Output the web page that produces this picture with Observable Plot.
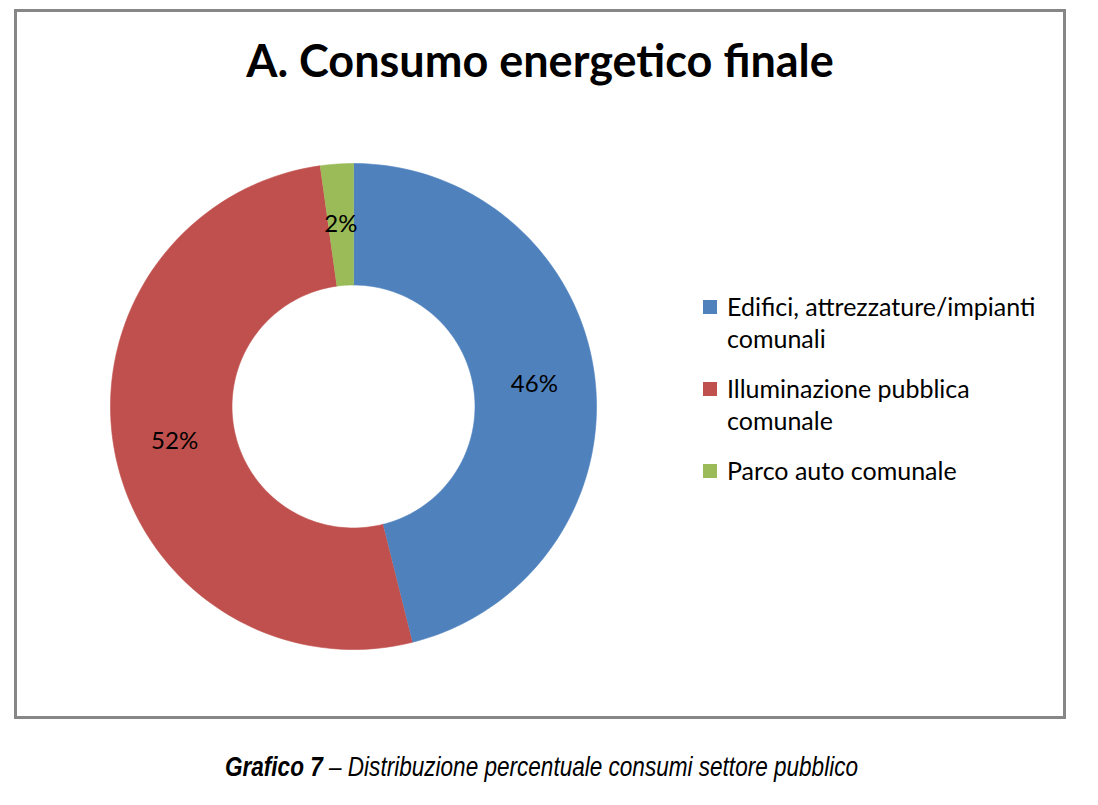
<!DOCTYPE html>
<html><head><meta charset="utf-8">
<script src="https://cdn.jsdelivr.net/npm/d3@7"></script>
<script src="https://cdn.jsdelivr.net/npm/@observablehq/plot@0.6"></script>
<style>
body{margin:0;background:#fff;width:1098px;height:805px;position:relative;overflow:hidden;font-family:Lato,"Open Sans",sans-serif;color:#000;}
#frame{position:absolute;left:14px;top:9px;width:1052px;height:710px;box-sizing:border-box;border:3px solid #878787;}
#title{position:absolute;left:14px;width:1052px;top:38px;text-align:center;font-weight:700;font-size:45px;line-height:45px;}
#chart{position:absolute;left:100px;top:153px;}
#legend{position:absolute;left:703px;top:290px;width:360px;}
.item{position:relative;padding-left:24px;font-size:25px;line-height:32px;margin-bottom:18px;width:330px;}
.sw{position:absolute;left:0;top:10px;width:14px;height:14px;}
#caption{position:absolute;left:0;width:1083px;top:753px;text-align:center;font-family:"Liberation Sans","Arial",sans-serif;font-style:italic;font-size:27.5px;line-height:27.5px;transform:scaleX(0.82);transform-origin:541.5px 0;white-space:nowrap;}
</style></head>
<body>
<div id="frame"></div>
<div id="title"></div>
<div id="chart"></div>
<div id="legend"></div>
<div id="caption"><b>Grafico 7</b> – Distribuzione percentuale consumi settore pubblico</div>
<script>
const titleText = "A. Consumo energetico finale";
const categories = ["Edifici, attrezzature/impianti comunali", "Illuminazione pubblica comunale", "Parco auto comunale"];
const values = [46.1, 51.7, 2.2];
const labels = ["46%", "52%", "2%"];
const colors = ["#4F81BD", "#C0504D", "#9BBB59"];
const innerRatio = 0.5;

document.getElementById("title").textContent = titleText;

const arcs = d3.pie().sort(null).value(d => d)(values);
const pts = [];
arcs.forEach((a, i) => {
  const n = 120;
  for (let k = 0; k <= n; k++) {
    const t = a.startAngle + (a.endAngle - a.startAngle) * k / n;
    pts.push({cat: categories[i], x: Math.sin(t), y: Math.cos(t)});
  }
  for (let k = n; k >= 0; k--) {
    const t = a.startAngle + (a.endAngle - a.startAngle) * k / n;
    pts.push({cat: categories[i], x: innerRatio * Math.sin(t), y: innerRatio * Math.cos(t)});
  }
});
const labelData = arcs.map((a, i) => {
  const m = (a.startAngle + a.endAngle) / 2, r = (1 + innerRatio) / 2;
  return {label: labels[i], x: r * Math.sin(m), y: r * Math.cos(m)};
});

const plot = Plot.plot({
  width: 506, height: 506, margin: 10,
  x: {domain: [-1, 1], axis: null},
  y: {domain: [-1, 1], axis: null},
  color: {domain: categories, range: colors},
  marks: [
    Plot.line(pts, {x: "x", y: "y", z: "cat", fill: "cat", stroke: "cat", strokeWidth: 0.6}),
    Plot.text(labelData, {x: "x", y: "y", text: "label", fill: "#000", fontSize: 24, fontFamily: "Lato, sans-serif"})
  ]
});
document.getElementById("chart").appendChild(plot);

const leg = document.getElementById("legend");
categories.forEach((c, i) => {
  const it = document.createElement("div");
  it.className = "item";
  const sw = document.createElement("span");
  sw.className = "sw"; sw.style.background = colors[i];
  it.appendChild(sw);
  it.appendChild(document.createTextNode(c));
  leg.appendChild(it);
});
</script>
</body></html>
